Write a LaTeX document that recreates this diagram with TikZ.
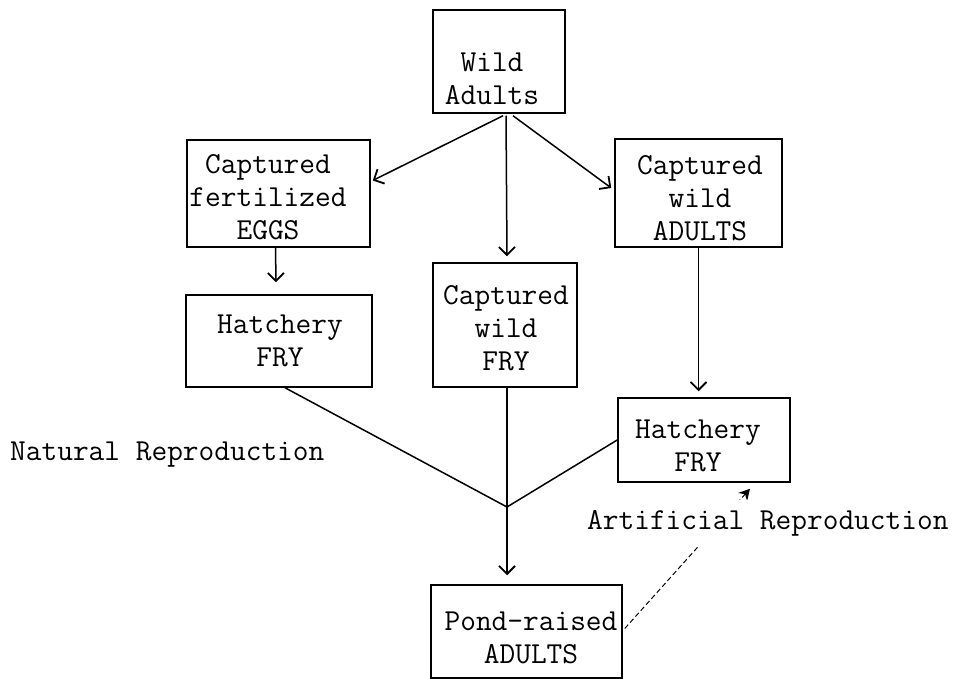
\documentclass[tikz,border=0pt]{standalone}
\usepackage{fontspec}
\usetikzlibrary{arrows.meta,calc}
\tikzset{
  box/.style={draw=black, line width=1.5pt, rectangle, inner sep=0pt},
  txt/.style={font=\ttfamily\fontsize{30.5}{33}\selectfont, align=center, inner sep=0pt, text=black},
  lbl/.style={font=\ttfamily\fontsize{30.5}{33}\selectfont, inner sep=0pt, text=black},
  conn/.style={line width=1.5pt, draw=black},
  arr/.style={conn, -{Straight Barb[length=8pt,width=16pt,line width=1.8pt]}},
  dasharr/.style={line width=1pt, draw=black, dash pattern=on 5pt off 3pt, -{Stealth[length=11pt,width=12pt,line width=0pt]}}
}
\begin{document}
\begin{tikzpicture}[x=1pt,y=-1pt]
\useasboundingbox[fill=white] (0,0) rectangle (963,679);

% boxes
\node[box, minimum width=132pt, minimum height=103pt] (wild) at (499,61.5) {};
\node[box, minimum width=183pt, minimum height=107pt] (eggs) at (278.5,193.5) {};
\node[box, minimum width=167pt, minimum height=108pt] (cwa) at (698.5,193) {};
\node[box, minimum width=144pt, minimum height=124pt] (cwf) at (505,325) {};
\node[box, minimum width=186pt, minimum height=92pt] (hf1) at (279,341) {};
\node[box, minimum width=172pt, minimum height=84pt] (hf2) at (704,440) {};
\node[box, minimum width=191pt, minimum height=93pt] (pond) at (526.5,631.5) {};

% texts
\node[txt] (wildt) at (492,78.5) {Wild\\Adults};
\node[txt] (eggst) at (268,197) {Captured\\fertilized\\EGGS};
\node[txt] (cwat) at (700,198) {Captured\\wild\\ADULTS};
\node[txt] (cwft) at (506,328) {Captured\\wild\\FRY};
\node[txt] (hf1t) at (280,341) {Hatchery\\FRY};
\node[txt] (hf2t) at (698,446) {Hatchery\\FRY};
\node[txt] (pondt) at (531,638) {Pond-raised\\ADULTS};

\coordinate (j) at (507,507);

% connectors
\draw[arr] ($(wild.south)+(4,2)$) -- ($(eggs.east)+(2,-13)$);
\draw[arr] ($(wild.south)+(7,2)$) -- ($(cwf.north)+(2,-6)$);
\draw[arr] ($(wild.south)+(14,2)$) -- ($(cwa.west)+(-3,-5)$);
\draw[arr] ($(eggs.south)+(-3,0)$) -- ($(hf1.north)+(-3,-12)$);
\draw[arr] (cwa.south) -- ($(cwa.south |- hf2.north)+(0,-6)$);
\draw[conn] ($(hf1.south)+(6,0)$) -- (j);
\draw[conn] ($(cwf.south)+(2,0)$) -- (j);
\draw[conn] ($(hf2.west)+(0,0)$) -- (j);
\draw[arr] (j) -- ($(j |- pond.north)+(0,-9)$);
\draw[dasharr] ($(pond.east)+(2,-3)$) -- ($(hf2.south)+(46,6)$);

% labels
\node[lbl, anchor=west] (nat) at (10,455) {Natural Reproduction};
\node[lbl, anchor=west, fill=white, inner ysep=10pt] (art) at (587,523) {Artificial Reproduction};
\end{tikzpicture}
\end{document}
